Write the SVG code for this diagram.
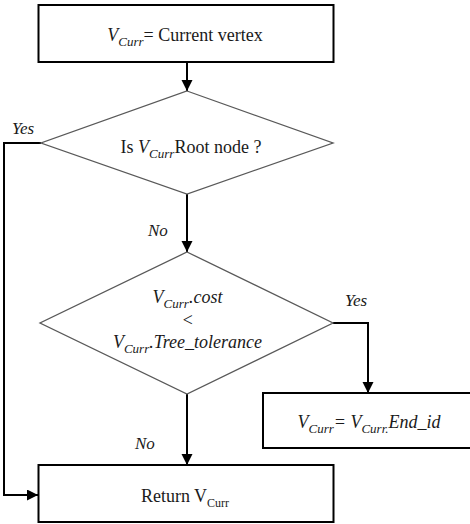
<svg xmlns="http://www.w3.org/2000/svg" width="470" height="524" viewBox="0 0 470 524">
  <style>
    .box { fill: #ffffff; stroke: #000000; stroke-width: 2; }
    .dia { fill: #ffffff; stroke: #595959; stroke-width: 1.3; }
    .wire { fill: none; stroke: #000000; stroke-width: 2; }
    .t { font-size: 18px; fill: #1a1a1a; }
    .it { font-style: italic; }
    .lbl { font-size: 17px; font-style: italic; fill: #1a1a1a; }
  </style>
  <defs>
    <marker id="arrow" markerUnits="userSpaceOnUse" markerWidth="12" markerHeight="12" refX="11" refY="5.5" orient="auto">
      <path d="M0,0 L11,5.5 L0,11 Z" fill="#000000"/>
    </marker>
  </defs>

  <g id="connectors" font-family="Liberation Serif, DejaVu Serif, serif">
    <path class="wire" d="M187,62 V91" marker-end="url(#arrow)"/>
    <path class="wire" d="M41,143 H4 V495 H38" marker-end="url(#arrow)"/>
    <path class="wire" d="M187,194 V252" marker-end="url(#arrow)"/>
    <path class="wire" d="M333,323 H368 V393" marker-end="url(#arrow)"/>
    <path class="wire" d="M187,394 V465" marker-end="url(#arrow)"/>
    <text class="lbl" x="12" y="134">Yes</text>
    <text class="lbl" x="148" y="236">No</text>
    <text class="lbl" x="345" y="306">Yes</text>
    <text class="lbl" x="135" y="449">No</text>
  </g>

  <g id="start" font-family="Liberation Serif, DejaVu Serif, serif">
    <rect class="box" x="38.5" y="5" width="295" height="57"/>
    <text class="t" x="185" y="41" text-anchor="middle"><tspan class="it">V</tspan><tspan class="it" font-size="13" dy="5">Curr</tspan><tspan dy="-5">= Current vertex</tspan></text>
  </g>

  <g id="is-root" font-family="Liberation Serif, DejaVu Serif, serif">
    <polygon class="dia" points="187,91 333,143 187,194 41,143"/>
    <text class="t" x="191" y="153" text-anchor="middle">Is <tspan class="it">V</tspan><tspan class="it" font-size="13" dy="5">Curr</tspan><tspan dy="-5">Root node ?</tspan></text>
  </g>

  <g id="cost-check" font-family="Liberation Serif, DejaVu Serif, serif">
    <polygon class="dia" points="187,252 333,323 187,394 40,323"/>
    <text class="t it" x="187.5" y="303" text-anchor="middle">V<tspan font-size="13" dy="5">Curr</tspan><tspan dy="-5">.cost</tspan></text>
    <text class="t it" x="187.5" y="326" text-anchor="middle">&lt;</text>
    <text class="t it" x="187.5" y="348" text-anchor="middle">V<tspan font-size="13" dy="5">Curr</tspan><tspan dy="-5">.Tree_tolerance</tspan></text>
  </g>

  <g id="end-id" font-family="Liberation Serif, DejaVu Serif, serif">
    <rect class="box" x="263" y="393" width="209" height="55"/>
    <text class="t it" x="369" y="428" text-anchor="middle">V<tspan font-size="13" dy="5">Curr</tspan><tspan dy="-5">= V</tspan><tspan font-size="13" dy="5">Curr.</tspan><tspan dy="-5">End_id</tspan></text>
  </g>

  <g id="return" font-family="Liberation Serif, DejaVu Serif, serif">
    <rect class="box" x="38.5" y="465" width="295" height="57"/>
    <text class="t" x="185" y="502" text-anchor="middle">Return V<tspan font-size="12" dy="5">Curr</tspan></text>
  </g>
</svg>
